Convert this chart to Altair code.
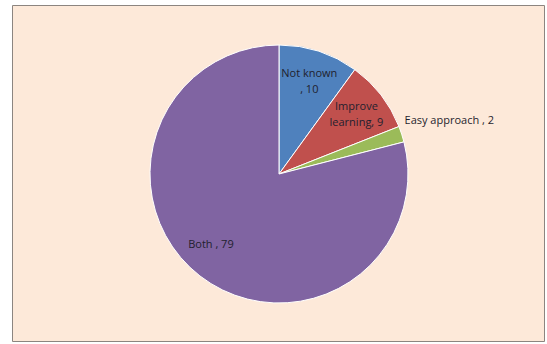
import altair as alt
import pandas as pd

categories = ["Not known", "Improve learning", "Easy approach", "Both"]
values = [10, 9, 2, 79]
labels = ["Not known\n, 10", "Improve\nlearning, 9", "Easy approach , 2", "Both , 79"]
colors = ["#4F81BD", "#C0504D", "#9BBB59", "#8064A2"]

df = pd.DataFrame({
    "category": categories,
    "value": values,
    "label": labels,
    "idx": list(range(len(categories))),
})

W, H = 547, 344
CX, CY, R = 279, 174, 129

frame = alt.Chart(pd.DataFrame({"a": [0]})).mark_rect(
    fill="#FDE9D9", stroke="#8C8580", strokeWidth=1
).encode(
    x=alt.value(12.5), x2=alt.value(544.5), y=alt.value(5.5), y2=alt.value(341.5)
)

base = alt.Chart(df).encode(
    theta=alt.Theta("value:Q", stack=True),
    order=alt.Order("idx:Q", sort="ascending"),
)

pie = base.mark_arc(outerRadius=R, stroke="white", strokeWidth=1).encode(
    color=alt.Color("category:N", scale=alt.Scale(domain=categories, range=colors), legend=None),
    x=alt.value(CX), y=alt.value(CY),
)

txt = dict(font="Open Sans", fontSize=11, color="#1F1F2E", lineBreak="\n", lineHeight=16)

inner = base.transform_calculate(
    t="(datum.category == 'Not known' || datum.category == 'Improve learning') ? datum.label : ''"
).mark_text(
    radius=98, align="center", baseline="middle", dy=-7, **txt
).encode(text="t:N", x=alt.value(CX), y=alt.value(CY))

both = base.transform_calculate(
    t="datum.category == 'Both' ? datum.label : ''"
).mark_text(
    radius=98, align="center", baseline="middle", dx=-8, dy=-6, **txt
).encode(text="t:N", x=alt.value(CX), y=alt.value(CY))

outer = base.transform_calculate(
    t="datum.category == 'Easy approach' ? datum.label : ''"
).mark_text(
    radius=132, align="left", baseline="middle", dy=-12, **txt
).encode(text="t:N", x=alt.value(CX), y=alt.value(CY))

chart = alt.layer(frame, pie, inner, both, outer).properties(
    width=W, height=H, autosize=alt.AutoSizeParams(type="none"), padding=0,
    background="white"
).configure_view(stroke=None)

chart.save("out.html", embed_options={"renderer": "svg", "actions": False})
